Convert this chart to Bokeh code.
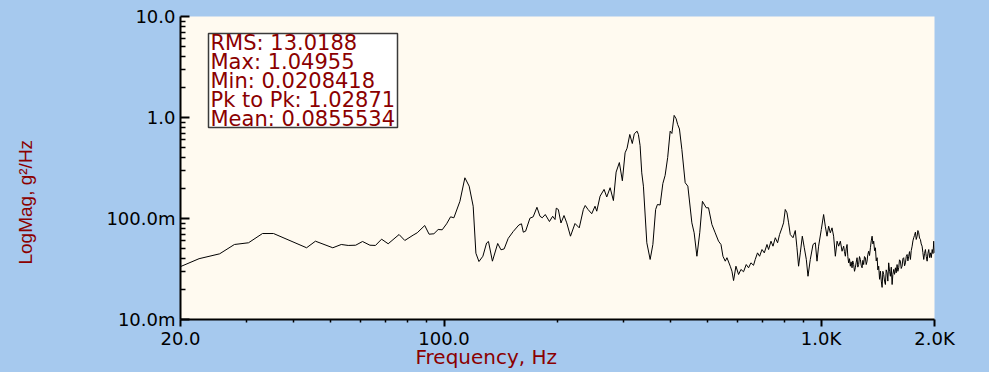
import numpy as np
from bokeh.plotting import figure
from bokeh.layouts import row
from bokeh.models import Range1d, FixedTicker, CustomJSTickFormatter, Label, BoxAnnotation, Title
from bokeh.embed import file_html
from bokeh.resources import INLINE

# ---- data (frequency in Hz, magnitude in g^2/Hz) ----
freq_low = [20, 22.4, 25.4, 27.8, 30.3, 33.0, 35.3, 43.2, 45.6, 50.7, 53.4, 55.7, 58.3, 60.8,
            63.6, 65.8, 68.3, 71.1, 76.0, 78.7, 82.8, 84.9, 88.9, 91.3, 94.0, 96.5, 98.9,
            101.6, 104.1, 106.2, 110.2, 113.6, 116.6, 119.5, 121.5, 123.8, 126.8, 129.7,
            131.2, 134.4, 138.8, 141.6, 144.4, 148.0, 152.6, 158.0, 160.5, 162.3, 164.6,
            169.0, 172.4, 176.4, 179.7, 182.2, 185.6, 190.4, 194.2, 197.0, 198.5]
mag_low = [0.0334, 0.0400, 0.0447, 0.0553, 0.0575, 0.0710, 0.0710, 0.0513, 0.0596, 0.0513,
           0.0553, 0.0541, 0.0544, 0.0592, 0.0544, 0.0541, 0.0624, 0.0562, 0.0694, 0.0606,
           0.0684, 0.0722, 0.0852, 0.0699, 0.0706, 0.0778, 0.0773, 0.0886, 0.1039, 0.1016,
           0.148, 0.253, 0.209, 0.1323, 0.0453, 0.0375, 0.0423, 0.0572, 0.0592, 0.0378,
           0.0566, 0.0490, 0.0500, 0.0635, 0.0743, 0.0863, 0.0886, 0.0732, 0.0749, 0.1007,
           0.1039, 0.1291, 0.1053, 0.1016, 0.1095, 0.0933, 0.1053, 0.0977, 0.1265]

freq_mid = [201.0, 204.3, 208.1, 211.6, 216.5, 222.6, 228.4, 234.2, 236.9, 241.0, 246.5,
            251.5, 254.2, 259.4, 265.8, 270.2, 275.8, 281.4, 286.1, 291.8, 297.2, 302.2,
            305.9, 311.0, 315.8, 319.7, 325.2, 327.8, 331.2, 334.6, 338.0, 345.1, 352.2,
            358.1, 364.2, 368.2, 374.3, 380.6, 385.9, 392.0, 398.0, 402.2, 407.8, 412.8,
            416.6, 421.2, 427.5, 436.2, 443.4, 454.4, 460.8, 468.6, 476.8, 484.7, 496.0,
            503.0, 513.6, 524.0, 534.8, 542.8, 549.4, 557.2, 563.0, 574.4, 580.4, 586.2,
            594.8, 604.4, 613.2, 623.0, 633.4, 642.4, 651.8, 662.2, 669.2, 678.6, 687.2,
            697.4, 707.2, 719.0, 726.0, 736.8, 745.8, 756.4, 767.0, 776.4, 787.8, 795.6,
            803.8, 812.2, 820.4, 828.8, 842.8, 854.6, 863.4, 872.0, 881.2, 892.0, 903.0,
            914.2, 923.6, 936.6, 952.4, 965.8, 975.8, 985.4]
mag_mid = [0.1228, 0.0903, 0.1070, 0.0906, 0.0668, 0.0892, 0.0808, 0.1228, 0.1345, 0.1228,
           0.1115, 0.1323, 0.1181, 0.1664, 0.194, 0.1634, 0.2017, 0.1505, 0.288, 0.358,
           0.2364, 0.447, 0.496, 0.679, 0.5525, 0.690, 0.732, 0.679, 0.528, 0.283, 0.209,
           0.0575, 0.0393, 0.0553, 0.1228, 0.1376, 0.1360, 0.222, 0.267, 0.402, 0.732,
           0.695, 1.0496, 0.971, 0.853, 0.770, 0.482, 0.226, 0.209, 0.0906, 0.0722, 0.0423,
           0.0722, 0.148, 0.1277, 0.1277, 0.0872, 0.0722, 0.0596, 0.0553, 0.0423, 0.0378,
           0.0409, 0.0337, 0.0301, 0.0243, 0.0337, 0.0279, 0.0313, 0.0297, 0.0350, 0.0325,
           0.0364, 0.0344, 0.0393, 0.0457, 0.0423, 0.0493, 0.0457, 0.0553, 0.0493, 0.0596,
           0.0532, 0.0645, 0.0575, 0.0694, 0.0808, 0.0906, 0.1228, 0.114, 0.0906, 0.0694,
           0.0645, 0.0760, 0.0513, 0.0337, 0.0457, 0.0668, 0.0513, 0.0393, 0.0268, 0.0393,
           0.0553, 0.0575, 0.0378, 0.0532]

freq_high1 = [1001.8, 1016, 1026.6, 1037.4, 1047.6, 1058.4, 1069.6, 1080, 1091.6, 1103,
              1113.8, 1125.4, 1137.2]
mag_high1 = [0.0778, 0.1095, 0.0839, 0.0668, 0.0839, 0.0722, 0.0808, 0.0668, 0.0423, 0.0596,
             0.0532, 0.0596, 0.0474]

freq_high2 = [1148.4, 1154, 1160.4, 1166, 1172.4, 1178, 1183.8, 1190, 1196.2, 1202,
              1208.8, 1214, 1220.6, 1227, 1233.2, 1240, 1246.4, 1252, 1258.4, 1265,
              1271.6, 1278, 1285.2, 1291, 1297.6, 1304, 1311.2, 1318, 1324.8, 1331,
              1338, 1345, 1352.2, 1359, 1366.2, 1373, 1379.6, 1387, 1394.2, 1401,
              1408.8, 1415, 1422.4, 1430, 1437.2, 1445, 1452.2, 1459, 1466.6, 1474,
              1481.8, 1489, 1497.2, 1504, 1512, 1520, 1527.8, 1536, 1543.8, 1551,
              1559, 1567, 1575.2, 1583, 1591.6, 1599, 1607.4, 1615, 1624.2, 1632,
              1641, 1649, 1657, 1666, 1674.6, 1683, 1692, 1700, 1708.4, 1717,
              1726.6, 1735, 1744.6, 1753, 1761.6, 1770, 1780, 1789, 1798.4, 1807,
              1816.2, 1825, 1835.2, 1844, 1854.2, 1863, 1872.8, 1882, 1892.2, 1902,
              1912, 1921, 1931, 1941, 1951.2, 1961, 1972, 1982, 1991.2, 1996,
              2000]
mag_high2 = [0.0532, 0.0470, 0.0423, 0.0500, 0.0553, 0.0420, 0.0364, 0.0400, 0.0337, 0.0372,
             0.0325, 0.0380, 0.0350, 0.0300, 0.0325, 0.0370, 0.0409, 0.0330, 0.0350, 0.0420,
             0.0393, 0.0345, 0.0325, 0.0385, 0.0350, 0.0420, 0.0409, 0.0350, 0.0378, 0.0440,
             0.0474, 0.0430, 0.0513, 0.0600, 0.0668, 0.0560, 0.0596, 0.0480, 0.0513, 0.0380,
             0.0409, 0.0310, 0.0337, 0.0250, 0.0301, 0.0240, 0.0208, 0.0300, 0.0279, 0.0240,
             0.0222, 0.0310, 0.0290, 0.0240, 0.0364, 0.0300, 0.0268, 0.0330, 0.0222, 0.0280,
             0.0313, 0.0280, 0.0325, 0.0290, 0.0350, 0.0300, 0.0325, 0.0390, 0.0378, 0.0320,
             0.0337, 0.0400, 0.0409, 0.0340, 0.0364, 0.0420, 0.0440, 0.0380, 0.0423, 0.0470,
             0.0393, 0.0480, 0.0532, 0.0600, 0.0645, 0.0680, 0.0732, 0.0620, 0.0668, 0.0760,
             0.0722, 0.0640, 0.0620, 0.0560, 0.0532, 0.0460, 0.0393, 0.0450, 0.0493, 0.0420,
             0.0378, 0.0450, 0.0493, 0.0410, 0.0457, 0.0410, 0.0493, 0.0450, 0.0596, 0.0520,
             0.0457]

freq = freq_low + freq_mid + freq_high1 + freq_high2
mag = mag_low + mag_mid + mag_high1 + mag_high2

x_ticks = [20, 100, 1000, 2000]
x_tick_labels = ["20.0", "100.0", "1.0K", "2.0K"]
x_minor = [30, 40, 50, 60, 70, 80, 90, 200, 300, 400, 500, 600, 700, 800, 900]
y_ticks = [0.01, 0.1, 1, 10]
y_tick_labels = ["10.0m", "100.0m", "1.0", "10.0"]
y_minor = [0.02, 0.03, 0.04, 0.05, 0.06, 0.07, 0.08, 0.09,
           0.2, 0.3, 0.4, 0.5, 0.6, 0.7, 0.8, 0.9,
           2, 3, 4, 5, 6, 7, 8, 9]
stats_lines = ["RMS: 13.0188", "Max: 1.04955", "Min: 0.0208418",
               "Pk to Pk: 1.02871", "Mean: 0.0855534"]
x_title = "Frequency, Hz"
y_title = "LogMag, g²/Hz"

BLUE = "#A6C9EE"
CREAM = "#FFFAF0"
DARKRED = "#8B0000"

H = 372
LEFT_W = 60
MAIN_W = 926

# narrow strip on the left that carries the vertical axis title
lf = figure(width=LEFT_W, height=H, x_range=Range1d(0, LEFT_W), y_range=Range1d(0, H),
            output_backend="svg", toolbar_location=None,
            x_axis_location=None, y_axis_location=None,
            min_border_left=0, min_border_right=0, min_border_top=0, min_border_bottom=0,
            background_fill_color=BLUE, border_fill_color=BLUE, outline_line_color=None)
lf.grid.visible = False
lf.add_layout(Label(x=25, y=H - 228, text=y_title, angle=np.pi / 2,
                    text_align="center", text_baseline="middle",
                    text_font="Liberation Sans", text_font_size="19px", text_color=DARKRED))

p = figure(width=MAIN_W, height=H, x_axis_type="log", y_axis_type="log",
           x_range=Range1d(20, 2000), y_range=Range1d(0.01, 10),
           output_backend="svg", toolbar_location=None,
           min_border_left=120, min_border_right=52, min_border_top=16, min_border_bottom=53,
           background_fill_color=CREAM, border_fill_color=BLUE, outline_line_color=None)
p.grid.visible = False

p.line(freq, mag, line_color="black", line_width=1)

fmt_code = """
for (let i = 0; i < tv.length; i++) {
  if (Math.abs(tv[i] - tick) <= 1e-6 * Math.abs(tv[i])) { return tl[i]; }
}
return "";
"""

xa = p.xaxis[0]
xa.ticker = FixedTicker(ticks=x_ticks, minor_ticks=x_minor)
xa.formatter = CustomJSTickFormatter(args=dict(tv=x_ticks, tl=x_tick_labels), code=fmt_code)
xa.major_tick_in = 0
xa.major_tick_out = 7
xa.minor_tick_in = 0
xa.minor_tick_out = 3
xa.major_label_standoff = 1

ya = p.yaxis[0]
ya.ticker = FixedTicker(ticks=y_ticks, minor_ticks=y_minor)
ya.formatter = CustomJSTickFormatter(args=dict(tv=y_ticks, tl=y_tick_labels), code=fmt_code)
ya.major_tick_in = 9
ya.major_tick_out = 0
ya.minor_tick_in = 5
ya.minor_tick_out = 0
ya.major_label_standoff = 5

for ax in (xa, ya):
    ax.axis_line_color = "black"
    ax.axis_line_width = 2
    ax.major_tick_line_color = "black"
    ax.major_tick_line_width = 2
    ax.minor_tick_line_color = "black"
    ax.minor_tick_line_width = 1.5
    ax.major_label_text_font = "DejaVu Sans"
    ax.major_label_text_font_size = "18px"
    ax.major_label_text_color = "black"

# horizontal axis title, placed below the tick labels
p.add_layout(Title(text=x_title, align="left", offset=235, vertical_align="top", standoff=-14,
                   text_font="DejaVu Sans", text_font_size="20px", text_font_style="normal",
                   text_color=DARKRED), "below")

# stats box
p.add_layout(BoxAnnotation(left=28, right=217, top=286, bottom=192,
                           left_units="screen", right_units="screen",
                           top_units="screen", bottom_units="screen",
                           fill_color="white", fill_alpha=1.0,
                           line_color="#3a3a3a", line_width=1.5, line_alpha=1.0))
p.add_layout(Label(x=30, y=289, x_units="screen", y_units="screen",
                   text="\n".join(stats_lines), text_align="left", text_baseline="top",
                   text_font="DejaVu Sans", text_font_size="21px", text_line_height=0.80,
                   text_color=DARKRED))

layout = row(lf, p, spacing=0)

html = file_html(layout, INLINE, title="LogMag")
style = "<style>html, body { background-color: %s !important; }</style>" % BLUE
if "</head>" in html:
    html = html.replace("</head>", style + "</head>", 1)
open("out.html", "w").write(html)
